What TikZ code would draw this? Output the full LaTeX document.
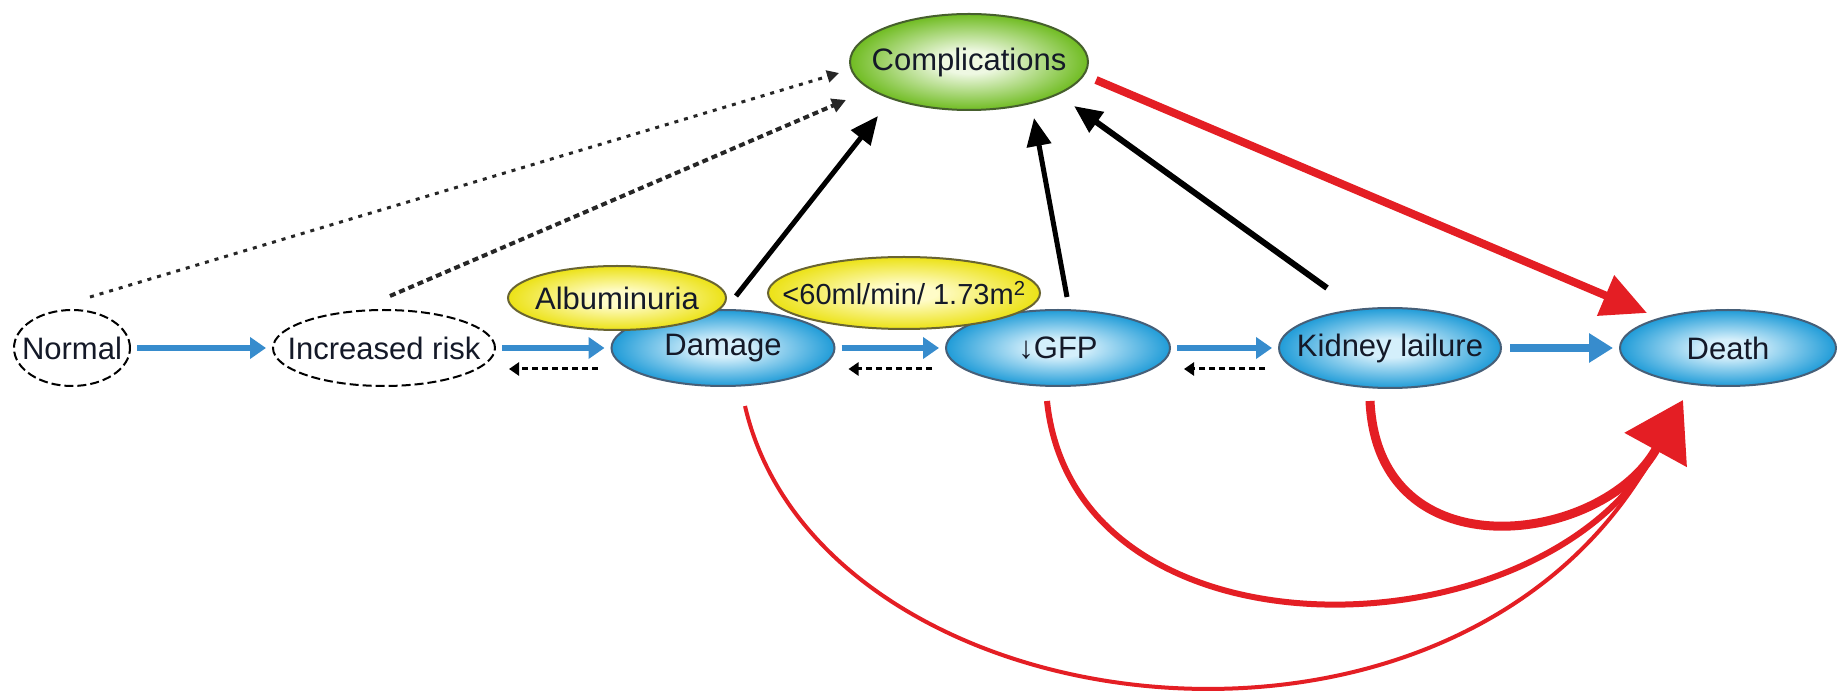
\documentclass[tikz,border=0pt]{standalone}
\usepackage{fontspec}
\setmainfont{Liberation Sans}
\usetikzlibrary{arrows.meta,shapes.geometric}

\definecolor{bluein}{RGB}{212,239,251}
\definecolor{blueout}{RGB}{32,156,216}
\definecolor{blueline}{RGB}{70,95,120}
\definecolor{yelin}{RGB}{255,252,200}
\definecolor{yelout}{RGB}{236,226,22}
\definecolor{yelline}{RGB}{105,100,50}
\definecolor{grnin}{RGB}{238,248,226}
\definecolor{grnout}{RGB}{112,188,34}
\definecolor{grnline}{RGB}{70,95,45}
\definecolor{arrowblue}{RGB}{55,140,205}
\definecolor{deepred}{RGB}{228,30,36}
\definecolor{txt}{RGB}{20,25,40}

\pgfdeclareradialshading{blueglow}{\pgfpoint{0bp}{0bp}}{color(0bp)=(bluein); color(6bp)=(bluein); color(25bp)=(blueout); color(50bp)=(blueout)}
\pgfdeclareradialshading{yelglow}{\pgfpoint{0bp}{0bp}}{color(0bp)=(yelin); color(6bp)=(yelin); color(25bp)=(yelout); color(50bp)=(yelout)}
\pgfdeclareradialshading{grnglow}{\pgfpoint{0bp}{0bp}}{color(0bp)=(grnin); color(6bp)=(grnin); color(25bp)=(grnout); color(50bp)=(grnout)}

\tikzset{
  wnode/.style={ellipse, draw=black, fill=white, line width=2pt, dash pattern=on 9pt off 4pt, inner sep=0pt, text=txt},
  bnode/.style={ellipse, draw=blueline, line width=2pt, shade, shading=blueglow, inner sep=0pt, minimum height=76pt, text=txt},
  ynode/.style={ellipse, draw=yelline, line width=2pt, shade, shading=yelglow, inner sep=0pt, text=txt},
  gnode/.style={ellipse, draw=grnline, line width=2pt, shade, shading=grnglow, inner sep=0pt, text=txt},
  bluearrow/.style={draw=arrowblue, line width=5.5pt, -{Triangle[length=16pt,width=21pt]}, shorten <=6pt, shorten >=6pt},
  bigbluearrow/.style={draw=arrowblue, line width=8pt, -{Triangle[length=24pt,width=28pt]}, shorten <=8pt, shorten >=6pt},
  backarrow/.style={draw=black, line width=3pt, dash pattern=on 6pt off 4pt, -{Triangle[length=10pt,width=13pt]}, shorten <=13pt, shorten >=13pt},
  dotarrow/.style={draw=black!85, line width=3pt, dash pattern=on 4pt off 6pt, -{Triangle[length=12pt,width=12pt]}},
  dasharrow/.style={draw=black!85, line width=4pt, dash pattern=on 6pt off 4pt, -{Triangle[length=14pt,width=14pt]}},
  blackarrow/.style={draw=black, line width=5pt, -{Triangle[length=28pt,width=24pt]}},
  redarrow/.style={draw=deepred, line width=8pt, -{Triangle[length=45pt,width=42pt]}},
  redcurve/.style={draw=deepred}
}

\begin{document}
\begin{tikzpicture}[x=1pt,y=1pt,font=\fontsize{31pt}{36pt}\selectfont]
\fill[white] (0,0) rectangle (1839,691);
\useasboundingbox (0,0) rectangle (1839,691);

% main row
\node[wnode, minimum width=116pt, minimum height=76pt] (normal) at (72,343) {\makebox[0pt]{Normal}};
\node[wnode, minimum width=222pt, minimum height=76pt] (risk) at (384,343) {\makebox[0pt]{Increased risk}};
\node[bnode, minimum width=223pt] (damage) at (723,343) {\makebox[0pt]{Damage}};
\node[bnode, minimum width=224pt] (gfp) at (1058,343) {\makebox[0pt]{↓GFP}};
\node[bnode, minimum width=222pt, minimum height=80pt] (kidney) at (1390,343) {\makebox[0pt]{Kidney lailure}};
\node[bnode, minimum width=216pt] (death) at (1728,343) {\makebox[0pt]{Death}};

% labels
\node[ynode, minimum width=218pt, minimum height=64pt] (albu) at (617,393) {\makebox[0pt]{Albuminuria}};
\node[ynode, minimum width=272pt, minimum height=72pt] (rate) at (904,398) {\makebox[0pt]{\fontsize{29pt}{34pt}\selectfont <60ml/min/ 1.73m\textsuperscript{2}}};

% top
\node[gnode, minimum width=238pt, minimum height=96pt] (comp) at (969,629) {\makebox[0pt]{Complications}};

% forward blue arrows
\draw[bluearrow] (normal.east) -- (risk.west);
\draw[bluearrow] (risk.east) -- (damage.west);
\draw[bluearrow] (damage.east) -- (gfp.west);
\draw[bluearrow] (gfp.east) -- (kidney.west);
\draw[bigbluearrow] (kidney.east) -- (death.west);

% backward dashed arrows
\draw[backarrow] ([yshift=-21pt]damage.west) -- ([yshift=-21pt]risk.east);
\draw[backarrow] ([yshift=-21pt]gfp.west) -- ([yshift=-21pt]damage.east);
\draw[backarrow] ([yshift=-21pt]kidney.west) -- ([yshift=-21pt]gfp.east);

% to complications
\draw[dotarrow] ([shift={(18pt,12pt)}]normal.north) -- ([shift={(-130pt,-11pt)}]comp.center);
\draw[dasharrow] ([shift={(6pt,13pt)}]risk.north) -- ([shift={(-123pt,-38pt)}]comp.center);
\draw[blackarrow] ([shift={(13pt,13pt)}]damage.north) -- ([shift={(-91pt,-54pt)}]comp.center);
\draw[blackarrow] ([shift={(9pt,12pt)}]gfp.north) -- ([shift={(65pt,-56pt)}]comp.center);
\draw[blackarrow, line width=6pt] ([shift={(-63pt,19pt)}]kidney.north) -- ([shift={(105pt,-44pt)}]comp.center);

% complications to death
\draw[redarrow] ([shift={(7pt,-18pt)}]comp.east) -- ([shift={(-81pt,35pt)}]death.center);

% curved arrows to death
\coordinate (dtip) at ([shift={(-45pt,-52pt)}]death.center);
\coordinate (dbase) at ([shift={(-72pt,-102pt)}]death.center);
\draw[redcurve, line width=4pt] ([shift={(22pt,-19pt)}]damage.south) .. controls (820,-40) and (1459,-124) .. (dbase);
\draw[redcurve, line width=6pt] ([shift={(-11pt,-14pt)}]gfp.south) .. controls (1075,20) and (1544,34) .. (dbase);
\draw[redcurve, line width=9pt, -{Triangle[length=57pt,width=69pt]}] ([shift={(-20pt,-12pt)}]kidney.south) .. controls (1378,115) and (1604,147) .. (dtip);
\end{tikzpicture}
\end{document}
